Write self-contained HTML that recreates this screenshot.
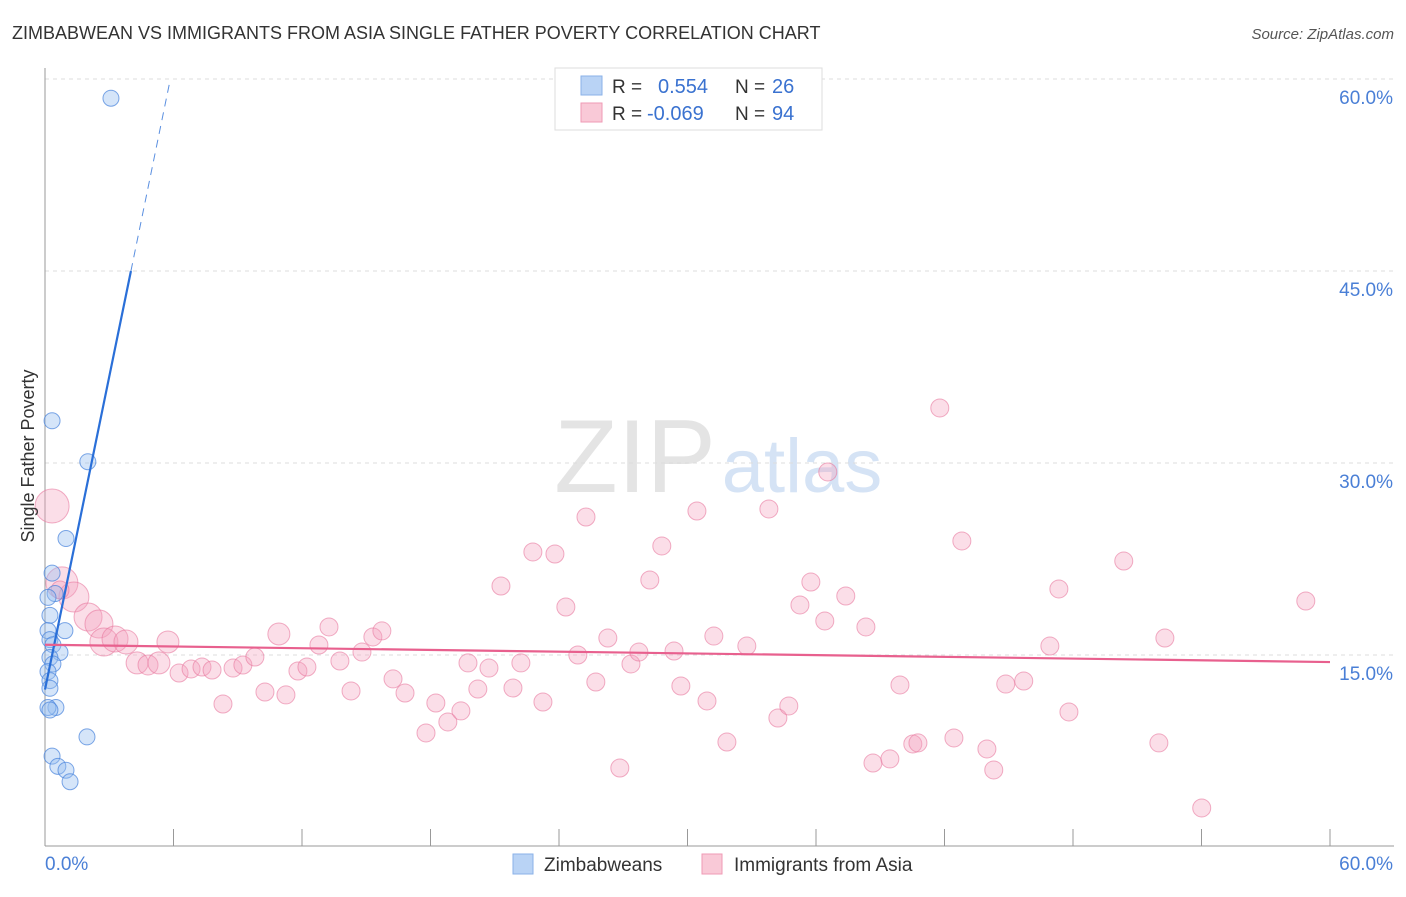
<!DOCTYPE html>
<html><head><meta charset="utf-8"><style>
body{margin:0;background:#fff;font-family:"Liberation Sans",sans-serif}
svg text{font-family:"Liberation Sans",sans-serif}
</style></head><body>
<svg id="chart" width="1406" height="892" xmlns="http://www.w3.org/2000/svg">
<text x="12" y="39" font-size="18" fill="#333">ZIMBABWEAN VS IMMIGRANTS FROM ASIA SINGLE FATHER POVERTY CORRELATION CHART</text>
<text x="1394" y="39" font-size="15" fill="#555" text-anchor="end" font-style="italic">Source: ZipAtlas.com</text>
<g>
<text x="635" y="492" font-size="104" fill="#e4e4e4" font-family="Liberation Serif" text-anchor="middle">ZIP</text>
<text x="802" y="492" font-size="76" fill="#d5e3f5" text-anchor="middle">atlas</text>
</g>
<g id="grid"></g>
<g id="axes"></g>
<g id="marks"></g>
<text transform="translate(34,456) rotate(-90)" font-size="18" fill="#333" text-anchor="middle">Single Father Poverty</text>
<g>
<rect x="555" y="68" width="267" height="62" fill="#fff" stroke="#ddd"/>
<rect x="581" y="76" width="21" height="19" fill="#b9d3f5" stroke="#8ab2e8"/>
<rect x="581" y="103" width="21" height="19" fill="#f9c9d7" stroke="#ef9ab4"/>
<text x="612" y="93" font-size="19" fill="#333">R =</text>
<text x="658" y="93" font-size="20" fill="#3a72d0">0.554</text>
<text x="735" y="93" font-size="19" fill="#333">N =</text>
<text x="772" y="93" font-size="20" fill="#3a72d0">26</text>
<text x="612" y="120" font-size="19" fill="#333">R =</text>
<text x="647" y="120" font-size="20" fill="#3a72d0">-0.069</text>
<text x="735" y="120" font-size="19" fill="#333">N =</text>
<text x="772" y="120" font-size="20" fill="#3a72d0">94</text>
</g>
<g>
<rect x="513" y="854" width="20" height="20" fill="#b9d3f5" stroke="#8ab2e8"/>
<text x="544" y="871" font-size="19" fill="#333">Zimbabweans</text>
<rect x="702" y="854" width="20" height="20" fill="#f9c9d7" stroke="#ef9ab4"/>
<text x="734" y="871" font-size="19" fill="#333">Immigrants from Asia</text>
</g>
</svg>
<script>
const yTicks=[15,30,45,60];
const yTickLabels=["15.0%","30.0%","45.0%","60.0%"];
const xTickVals=[0,6,12,18,24,30,36,42,48,54,60];
const blueX=[3.08,0.33,2.0,0.98,0.33,0.47,0.14,0.23,0.14,0.93,0.23,0.37,0.7,0.23,0.37,0.14,0.23,0.23,0.51,0.14,1.96,0.33,0.6,0.98,1.17,0.23];
const blueY=[58.5,33.3,30.1,24.1,21.4,19.8,19.5,18.1,16.9,16.9,16.2,15.8,15.2,14.8,14.3,13.7,13.0,12.4,10.9,10.9,8.6,7.1,6.3,6.0,5.1,10.7];
const pinkPx=[[52,506,17],[62,583,16],[74,597,15],[88,617,14],[99,624,14],[104,642,14],[115,639,13],[126,642,12],[168,642,11],[137,663,11],[148,665,10],[159,663,11],[179,673],[191,669],[202,667],[212,670],[233,668],[243,665],[255,657],[279,634,11],[265,692],[286,695],[223,704],[329,627],[319,645],[298,671],[307,667],[340,661],[351,691],[362,652],[373,637],[382,631],[393,679],[405,693],[436,703],[448,722],[426,733],[461,711],[478,689],[468,663],[489,668],[513,688],[521,663],[501,586],[533,552],[555,554],[586,517],[566,607],[543,702],[578,655],[596,682],[608,638],[620,768],[631,664],[639,652],[650,580],[662,546],[674,651],[681,686],[697,511],[707,701],[714,636],[727,742],[747,646],[769,509],[778,718],[789,706],[800,605],[811,582],[825,621],[828,472],[846,596],[866,627],[873,763],[890,759],[900,685],[913,744],[918,743],[940,408],[954,738],[962,541],[987,749],[994,770],[1006,684],[1024,681],[1050,646],[1059,589],[1069,712],[1124,561],[1159,743],[1165,638],[1202,808],[1306,601],[60,590,9]];
const pinkX=pinkPx.map(p=>+((p[0]-45)/21.42).toFixed(2));
const pinkY=pinkPx.map(p=>+((847-p[1])/12.8).toFixed(2));
const pinkSize=pinkPx.map(p=>p[2]||9);
const blueTrend=[12.3,8.15];
const pinkTrend=[15.8,-0.0225];
const X0=45,X1=1330,Y0=847,PXY=12.8;
const xs=v=>X0+v*(X1-X0)/60, ys=v=>Y0-v*PXY;
const NS="http://www.w3.org/2000/svg";
function mk(t,parent,attrs){const e=document.createElementNS(NS,t);for(const k in attrs)e.setAttribute(k,attrs[k]);document.getElementById(parent).appendChild(e);return e;}
yTicks.forEach((v,i)=>{
 const l=mk('line','grid',{x1:45,x2:1394,y1:ys(v),y2:ys(v),stroke:'#ddd','stroke-dasharray':'4,4'});
 
 
 const t=mk('text','grid',{x:1393,y:ys(v)+25,'font-size':19,fill:'#4a7fd6','text-anchor':'end'});
 t.textContent=yTickLabels[i];
 
 
});
const ax=mk('line','axes',{x1:45,x2:45,y1:68,y2:846,stroke:'#999'});


const bx=mk('line','axes',{x1:45,x2:1394,y1:846,y2:846,stroke:'#999'});


xTickVals.forEach(v=>{
 const t=mk('line','axes',{x1:xs(v),x2:xs(v),y1:829,y2:846,stroke:'#999'});
 
 
});
const xl0=mk('text','axes',{x:45,y:870,'font-size':19,fill:'#4a7fd6'});xl0.textContent='0.0%';


const xl1=mk('text','axes',{x:1393,y:870,'font-size':19,fill:'#4a7fd6','text-anchor':'end'});xl1.textContent='60.0%';


pinkX.forEach((x,i)=>{
 const c=mk('circle','marks',{cx:xs(x),cy:ys(pinkY[i]),r:pinkSize[i],fill:'rgba(244,160,188,0.35)',stroke:'rgba(232,120,158,0.6)'});
 
 
});
blueX.forEach((x,i)=>{
 const c=mk('circle','marks',{cx:xs(x),cy:ys(blueY[i]),r:8,fill:'rgba(150,190,240,0.4)',stroke:'rgba(70,130,220,0.7)'});
 
 
});
const bxEnd=(45-blueTrend[0])/blueTrend[1], bxDash=(60-blueTrend[0])/blueTrend[1];
const bt=mk('line','marks',{x1:xs(0),y1:ys(blueTrend[0]),x2:xs(bxEnd),y2:ys(45),stroke:'#2a6fd8','stroke-width':2.2});


const bd=mk('line','marks',{x1:xs(bxEnd),y1:ys(45),x2:xs(bxDash),y2:ys(60),stroke:'#5a8fe0','stroke-width':1,'stroke-dasharray':'8,6'});


const pt=mk('line','marks',{x1:xs(0),y1:ys(pinkTrend[0]),x2:xs(60),y2:ys(pinkTrend[0]+60*pinkTrend[1]),stroke:'#e8608e','stroke-width':2.2});


</script>
</body></html>
